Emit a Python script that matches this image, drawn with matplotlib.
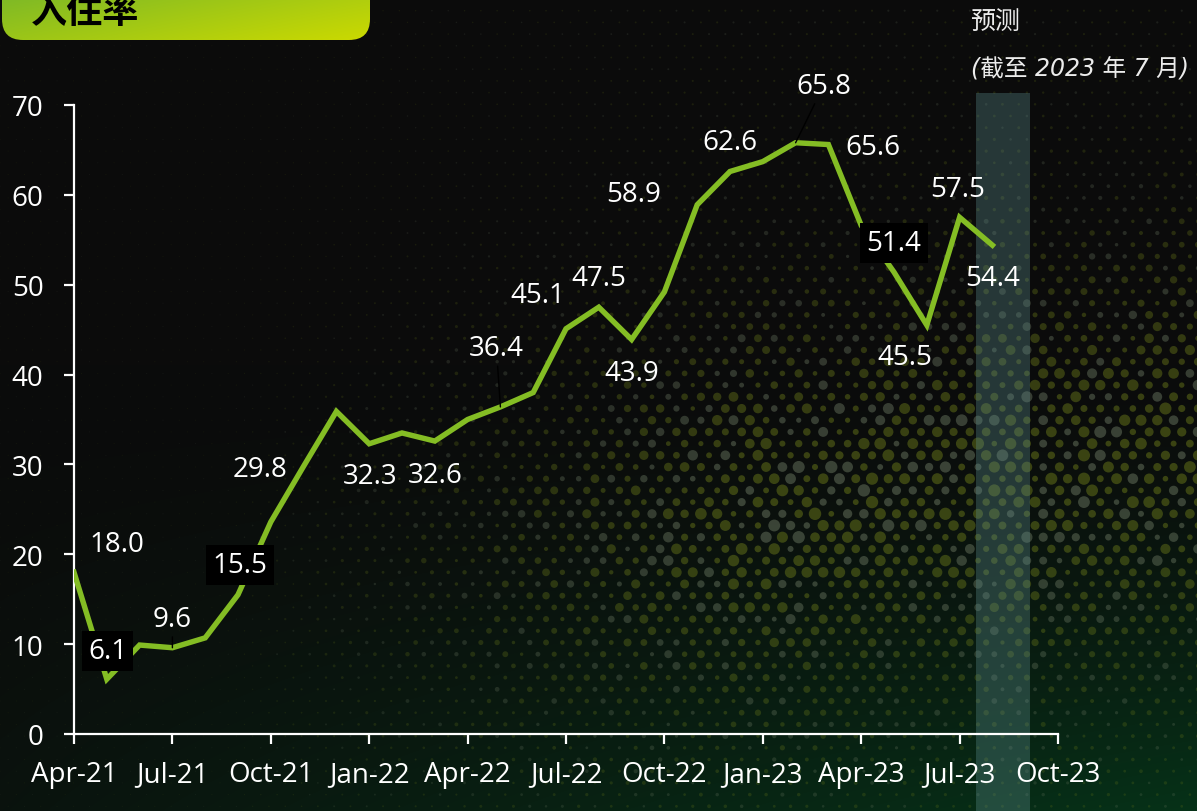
import numpy as np
import matplotlib.pyplot as plt
from matplotlib.patches import FancyBboxPatch, Rectangle

# ---- data ----
months = ['Apr-21', 'May-21', 'Jun-21', 'Jul-21', 'Aug-21', 'Sep-21', 'Oct-21', 'Nov-21',
          'Dec-21', 'Jan-22', 'Feb-22', 'Mar-22', 'Apr-22', 'May-22', 'Jun-22', 'Jul-22',
          'Aug-22', 'Sep-22', 'Oct-22', 'Nov-22', 'Dec-22', 'Jan-23', 'Feb-23', 'Mar-23',
          'Apr-23', 'May-23', 'Jun-23', 'Jul-23', 'Aug-23']
occupancy = [18.0, 6.1, 9.9, 9.6, 10.7, 15.5, 23.6, 29.8, 35.9, 32.3, 33.5, 32.6, 35.0,
             36.4, 38.0, 45.1, 47.5, 43.9, 49.2, 58.9, 62.6, 63.7, 65.8, 65.6, 56.6,
             51.4, 45.5, 57.5, 54.4]
tick_labels = ['Apr-21', 'Jul-21', 'Oct-21', 'Jan-22', 'Apr-22', 'Jul-22', 'Oct-22',
               'Jan-23', 'Apr-23', 'Jul-23', 'Oct-23']
labeled = ['Apr-21', 'May-21', 'Jul-21', 'Sep-21', 'Nov-21', 'Jan-22', 'Mar-22', 'May-22',
           'Jul-22', 'Aug-22', 'Sep-22', 'Nov-22', 'Dec-22', 'Feb-23', 'Mar-23', 'May-23',
           'Jun-23', 'Jul-23', 'Aug-23']
forecast_span = (27.5, 29.15)   # in month index units
title = '入住率'
note1 = '预测'
note2 = '(截至 2023 年 7 月)'

# label placement (pixel offsets from point), boxed labels, leader lines
label_offsets = {'Apr-21': (43, 28), 'May-21': (1, 28), 'Jul-21': (0, 29), 'Sep-21': (2, 30),
                 'Nov-21': (-44, -3), 'Jan-22': (1, -32), 'Mar-22': (0, -34), 'May-22': (-4, 59),
                 'Jul-22': (-28, 34), 'Aug-22': (0, 29), 'Sep-22': (0, -33), 'Nov-22': (-64, 11),
                 'Dec-22': (0, 29), 'Feb-23': (28, 57), 'Mar-23': (45, -2), 'May-23': (0, 29),
                 'Jun-23': (-22, -32), 'Jul-23': (-2, 28), 'Aug-23': (0, -33)}
boxed = {'May-21', 'Sep-21', 'May-23'}
leaders = {'Jul-21', 'May-22', 'Feb-23'}

W, H = 1197, 812
fig = plt.figure(figsize=(W / 100, H / 100), dpi=100)
fig.patch.set_facecolor('#0b0b0b')

# ---- background ----
bg = fig.add_axes([0, 0, 1, 1], zorder=0)
bg.set_xlim(0, W)
bg.set_ylim(H, 0)
bg.axis('off')

yy, xx = np.mgrid[0:H, 0:W]
fx = xx / W
fy = yy / H
g = np.clip((fy - 0.45) / 0.55, 0, 1) ** 1.5 * (0.2 + 0.8 * fx)
base = np.array([11, 11, 11]) / 255
green = np.array([6, 50, 24]) / 255
img = base * (1 - g[..., None]) + green * g[..., None]
bg.imshow(img, extent=[0, W, H, 0], aspect='auto', zorder=0)

# halftone dots (decoration)
sx, sy = 16.3, 11.7
rows = np.arange(0, H + sy, sy)
cols = np.arange(0, W + sx, sx)
dx_list, dy_list, ds, dc = [], [], [], []
for k, y in enumerate(rows):
    xs = cols + (sx / 2 if k % 2 else 0)
    h1 = np.abs(np.sin(xs * 12.9898 + y * 78.233) * 43758.5453) % 1
    h2 = np.abs(np.sin(xs * 39.346 + y * 11.135) * 24634.634) % 1
    yc = 570 - 0.13 * (xs - 300)
    env = np.exp(-((y - yc) / 230) ** 2)
    xfac = np.clip((xs - 220) / 520, 0, 1)
    strength = env * xfac
    r = 0.5 + 4.4 * strength * (0.4 + 0.8 * h1) + 0.5 * xfac
    alpha = 0.12 + 0.32 * strength + 0.06 * xfac
    for xv, rv, av, hv in zip(xs, r, alpha, h2):
        dx_list.append(xv)
        dy_list.append(y)
        ds.append((2 * rv * 0.72) ** 2)
        c = (0.42, 0.47, 0.38) if hv > 0.72 else (0.42, 0.48, 0.1)
        dc.append((*c, av))
bg.scatter(dx_list, dy_list, s=ds, c=dc, linewidths=0, zorder=1)

# title box
box = FancyBboxPatch((2, -40), 368, 81, boxstyle='round,pad=0,rounding_size=21',
                     facecolor='none', edgecolor='none', zorder=2)
bg.add_patch(box)
gy, gx = np.mgrid[0:60, 0:200]
t = np.clip(0.55 * gx / 199 + 0.45 * gy / 59, 0, 1)
c0 = np.array([0x72, 0xb4, 0x2c]) / 255
c1 = np.array([0xcc, 0xda, 0x00]) / 255
gimg = c0 * (1 - t[..., None]) + c1 * t[..., None]
im = bg.imshow(gimg, extent=[0, 372, 42, -20], aspect='auto', zorder=2)
im.set_clip_path(box)
bg.text(85, 12, title, fontsize=26, fontweight='bold', color='black',
        family=['Noto Sans CJK SC'], ha='center', va='center', zorder=3)

bg.text(995, 22, note1, fontsize=18, color='#ececec', style='italic',
        family=['DejaVu Sans', 'Noto Sans CJK SC'], ha='center', va='center', zorder=3)
bg.text(1080, 70, note2, fontsize=17, color='#ececec', style='italic',
        family=['DejaVu Sans', 'Noto Sans CJK SC'], ha='center', va='center', zorder=3)

# ---- main chart ----
ax = fig.add_axes([74 / W, 77 / H, 984 / W, 629 / H], zorder=1)
ax.set_facecolor('none')
xpos = np.arange(len(months))
ax.set_xlim(0, 30)
ax.set_ylim(0, 70)

ax.add_patch(Rectangle((forecast_span[0], -9), forecast_span[1] - forecast_span[0], 80.3,
                       facecolor='#5a8a8a', alpha=0.35, edgecolor='none',
                       clip_on=False, zorder=1))

ax.plot(xpos, occupancy, color='#84bd24', lw=3.9, solid_joinstyle='miter', zorder=3)

for name in labeled:
    i = months.index(name)
    v = occupancy[i]
    ox, oy = label_offsets[name]
    kw = {}
    if name in boxed:
        kw['bbox'] = dict(boxstyle='square,pad=0.22', facecolor='black', edgecolor='none')
    if name in leaders:
        kw['arrowprops'] = dict(arrowstyle='-', color='black', lw=1.0, shrinkA=1, shrinkB=0)
    ax.annotate(f'{v:.1f}', xy=(i, v), xytext=(ox, oy), textcoords='offset pixels',
                ha='center', va='center', fontsize=20, color='white',
                family='Open Sans', zorder=5, **kw)

ax.set_xticks(np.arange(0, 31, 3))
ax.set_xticklabels(tick_labels)
ax.set_yticks(np.arange(0, 71, 10))
for s in ['top', 'right']:
    ax.spines[s].set_visible(False)
for s in ['left', 'bottom']:
    ax.spines[s].set_color('white')
    ax.spines[s].set_linewidth(1.6)
ax.tick_params(axis='both', colors='white', length=7, width=1.6, labelsize=20)
ax.tick_params(axis='y', pad=15)
ax.tick_params(axis='x', pad=12)
for lab in ax.get_xticklabels() + ax.get_yticklabels():
    lab.set_family('Open Sans')

fig.savefig('out.png', dpi=100, facecolor=fig.get_facecolor())
